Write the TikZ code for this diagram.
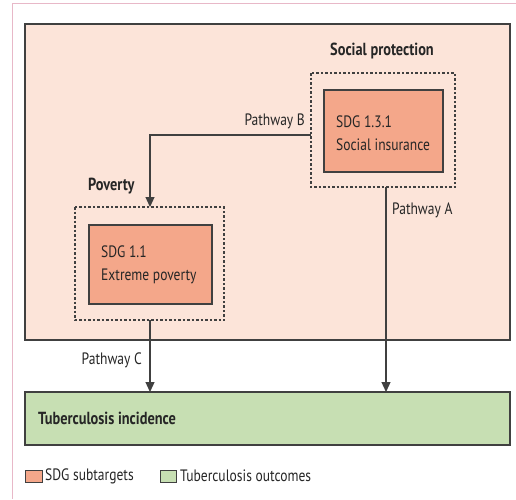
\documentclass[tikz,border=0pt]{standalone}
\usepackage{fontspec}
\setmainfont{PT Sans}[FakeStretch=0.82]
\usetikzlibrary{arrows.meta}
\definecolor{peach}{HTML}{FCE4D9}
\definecolor{salmon}{HTML}{F4A78A}
\definecolor{tbgreen}{HTML}{C7DFB3}
\definecolor{edge}{HTML}{404040}
\definecolor{framepink}{HTML}{E8B8C8}
\tikzset{
  x=1pt, y=-1pt,
  region/.style={draw=edge, line width=1.3pt, fill=peach},
  sdgbox/.style={draw=edge, line width=1.2pt, fill=salmon},
  groupbox/.style={draw=edge, line width=1.2pt, dash pattern=on 2.5pt off 2pt},
  outcome/.style={draw=edge, line width=1.3pt, fill=tbgreen},
  lbl/.style={font=\fontsize{16.5}{23}\selectfont, text=black!85, inner sep=0pt},
  heading/.style={lbl, font=\fontsize{17.5}{23}\selectfont\bfseries},
  path/.style={draw=edge, line width=1.2pt, -{Triangle[width=9pt,length=10pt]}},
}
\begin{document}
\begin{tikzpicture}
\useasboundingbox (0,0) rectangle (516,499);
\fill[white] (0,0) rectangle (516,499);
% page frame
\draw[framepink, line width=1pt] (12,499) -- (12,3) -- (516,3);

% background region
\draw[region] (25,24) rectangle (510,340);

% social protection group
\draw[groupbox] (311,73) rectangle (455,187);
\coordinate (spL) at (311,135);
\coordinate (spB) at (386,187);
\draw[sdgbox] (324,90) rectangle (443,172);
\node[lbl, anchor=west, align=left] (si) at (336,133) {SDG 1.3.1\\Social insurance};
\node[heading, anchor=west] (sph) at (330,51) {Social protection};

% poverty group
\draw[groupbox] (75,207) rectangle (224,320);
\coordinate (povT) at (150,207);
\coordinate (povB) at (150,320);
\draw[sdgbox] (89,225) rectangle (212,304);
\node[lbl, anchor=west, align=left] (ep) at (101,265) {SDG 1.1\\Extreme poverty};
\node[heading, anchor=west] (povh) at (88,186) {Poverty};

% outcome
\draw[outcome] (25,392) rectangle (510,445);
\node[heading, anchor=west] (tb) at (38,418) {Tuberculosis incidence};
\coordinate (tbC) at (150,392);
\coordinate (tbA) at (386,392);

% pathways
\draw[path] (spL) -- (150,135) -- (povT);
\node[lbl, anchor=east] (pb) at (305,121) {Pathway B};
\draw[path] (spB) -- (tbA);
\node[lbl, anchor=west] (pa) at (392,210) {Pathway A};
\draw[path] (povB) -- (tbC);
\node[lbl, anchor=east] (pc) at (142,360) {Pathway C};

% legend
\draw[sdgbox, line width=1pt] (25,470) rectangle (42,482);
\node[lbl, anchor=west] (lg1) at (45,476) {SDG subtargets};
\draw[outcome, line width=1pt] (160,470) rectangle (176,482);
\node[lbl, anchor=west] (lg2) at (180,476) {Tuberculosis outcomes};
\end{tikzpicture}
\end{document}
